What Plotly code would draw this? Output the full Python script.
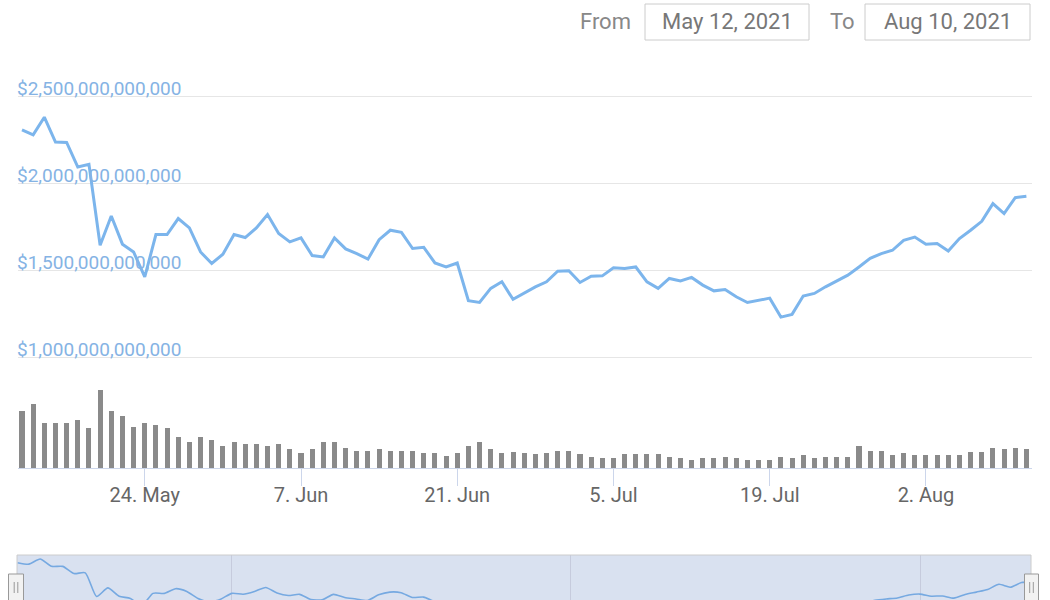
import pandas as pd
import plotly.graph_objects as go

# ---------------- data ----------------
start_date = "2021-05-13"
n_days = 91
dates = pd.date_range(start_date, periods=n_days, freq="D")

# total market cap, trillions of USD
market_cap_trillions = [
    2.309, 2.280, 2.381, 2.238, 2.236, 2.095, 2.110, 1.646, 1.814, 1.652,
    1.607, 1.464, 1.707, 1.707, 1.799, 1.745, 1.607, 1.541, 1.594, 1.707,
    1.690, 1.745, 1.822, 1.713, 1.665, 1.688, 1.587, 1.579, 1.688, 1.625,
    1.598, 1.566, 1.678, 1.732, 1.720, 1.627, 1.634, 1.544, 1.521, 1.544,
    1.327, 1.317, 1.398, 1.436, 1.335, 1.369, 1.407, 1.436, 1.497, 1.499,
    1.432, 1.468, 1.470, 1.516, 1.512, 1.521, 1.436, 1.398, 1.455, 1.441,
    1.461, 1.417, 1.384, 1.392, 1.350, 1.317, 1.331, 1.342, 1.233, 1.249,
    1.354, 1.369, 1.407, 1.441, 1.474, 1.521, 1.571, 1.598, 1.617, 1.674,
    1.693, 1.652, 1.656, 1.613, 1.684, 1.732, 1.783, 1.885, 1.828, 1.919,
    1.927,
]

# 24h volume, billions of USD
volume_billions = [
    287, 322, 227, 227, 227, 244, 200, 392, 287, 260,
    208, 227, 218, 200, 157, 132, 157, 140, 113, 132,
    122, 122, 113, 122, 97, 78, 97, 132, 132, 103,
    88, 88, 97, 88, 88, 85, 78, 78, 62, 78,
    112, 132, 95, 78, 80, 78, 70, 78, 87, 87,
    70, 58, 50, 53, 70, 70, 70, 70, 58, 50,
    42, 50, 50, 58, 50, 43, 43, 43, 58, 50,
    67, 50, 58, 58, 58, 112, 87, 87, 67, 75,
    67, 67, 67, 67, 67, 83, 83, 103, 95, 103,
    95,
]

x_tick_dates = ["2021-05-24", "2021-06-07", "2021-06-21", "2021-07-05", "2021-07-19", "2021-08-02"]
y_tick_values = [1.0e12, 1.5e12, 2.0e12, 2.5e12]
from_text = "May 12, 2021"
to_text = "Aug 10, 2021"

market_cap = [v * 1e12 for v in market_cap_trillions]
volume = [v * 1e9 for v in volume_billions]

# ---------------- geometry helpers ----------------
W, H = 1050, 600
FONT = "Roboto, 'Noto Sans', sans-serif"


def px_x(p):
    return p / W


def px_y(p):
    return 1 - p / H


t0 = pd.Timestamp(start_date)
DAY = pd.Timedelta(days=1)

# main chart: first point at 22px, 11.16 px/day, plot 18..1032
PX_PER_DAY = 11.16
main_xrange = [str(t0 + DAY * ((18 - 22) / PX_PER_DAY)), str(t0 + DAY * ((1032 - 22) / PX_PER_DAY))]

# main y: 2.5T at 96.5px, 1.0T at 357.7px
px_per_T = (357.7 - 96.5) / 1.5
y_top_px, y_bot_px = 60, 365
main_yrange = [(1.0 - (y_bot_px - 357.7) / px_per_T) * 1e12, (2.5 + (96.5 - y_top_px) / px_per_T) * 1e12]

# volume pane: 380..468.3 px, 5e9 per px
vol_top_px, vol_bot_px = 380, 468.3
vol_range = [0, (vol_bot_px - vol_top_px) * 5e9]

# navigator: x 17..1031, first point at 17.6, 11.28 px/day ; y 555..600
NAV_PX_PER_DAY = 11.28
nav_xrange = [str(t0 + DAY * ((17 - 17.6) / NAV_PX_PER_DAY)), str(t0 + DAY * ((1031 - 17.6) / NAV_PX_PER_DAY))]
nav_px_per_T = 51
nav_top_val = 2.381 + 4 / nav_px_per_T
nav_yrange = [(nav_top_val - 45 / nav_px_per_T) * 1e12, nav_top_val * 1e12]

LINE_COLOR = "#7cb5ec"

fig = go.Figure()

fig.add_trace(go.Scatter(
    x=dates, y=market_cap, mode="lines",
    line=dict(color=LINE_COLOR, width=3),
    xaxis="x", yaxis="y", hoverinfo="skip",
))

fig.add_trace(go.Bar(
    x=dates, y=volume,
    marker=dict(color="#8a8a8a", line=dict(width=0)),
    width=0.45 * 86400000,
    xaxis="x2", yaxis="y2", hoverinfo="skip",
))

fig.add_trace(go.Scatter(
    x=dates, y=market_cap, mode="lines",
    line=dict(color="#76a9e1", width=1.6, shape="spline", smoothing=0.6),
    xaxis="x3", yaxis="y3", hoverinfo="skip",
))

shapes = []
annotations = []

# navigator mask background
shapes.append(dict(type="rect", xref="paper", yref="paper", layer="below",
                   x0=px_x(17), x1=px_x(1031), y0=px_y(610), y1=px_y(555),
                   fillcolor="#d9e1f0", line=dict(width=0)))
# navigator outline
shapes.append(dict(type="rect", xref="paper", yref="paper", layer="above",
                   x0=px_x(17), x1=px_x(1031), y0=px_y(610), y1=px_y(555),
                   fillcolor="rgba(0,0,0,0)", line=dict(color="#cccccc", width=1)))
# navigator handles
for hx0, hx1 in [(8.5, 23.5), (1024.5, 1038.5)]:
    shapes.append(dict(type="rect", xref="paper", yref="paper", layer="above",
                       x0=px_x(hx0), x1=px_x(hx1), y0=px_y(606), y1=px_y(574),
                       fillcolor="#f2f2f2", line=dict(color="#999999", width=1)))
    cx = (hx0 + hx1) / 2
    for dx in (-1.8, 1.8):
        shapes.append(dict(type="line", xref="paper", yref="paper", layer="above",
                           x0=px_x(cx + dx), x1=px_x(cx + dx), y0=px_y(593), y1=px_y(582),
                           line=dict(color="#999999", width=1)))

# range input boxes
for bx0, bx1, txt in [(645, 809, from_text), (865, 1030, to_text)]:
    shapes.append(dict(type="rect", xref="paper", yref="paper", layer="above",
                       x0=px_x(bx0), x1=px_x(bx1), y0=px_y(40), y1=px_y(4),
                       fillcolor="white", line=dict(color="#cccccc", width=1)))
    annotations.append(dict(xref="paper", yref="paper", x=px_x((bx0 + bx1) / 2), y=px_y(22),
                            text=txt, showarrow=False, xanchor="center", yanchor="middle",
                            font=dict(family=FONT, size=22, color="#777777")))
annotations.append(dict(xref="paper", yref="paper", x=px_x(633), y=px_y(21), text="From",
                        showarrow=False, xanchor="right", yanchor="middle",
                        font=dict(family=FONT, size=22, color="#888888")))
annotations.append(dict(xref="paper", yref="paper", x=px_x(857), y=px_y(21), text="To",
                        showarrow=False, xanchor="right", yanchor="middle",
                        font=dict(family=FONT, size=22, color="#888888")))

fig.update_layout(
    width=W, height=H,
    margin=dict(l=0, r=0, t=0, b=0),
    paper_bgcolor="white", plot_bgcolor="white",
    showlegend=False, hovermode=False,
    font=dict(family=FONT),
    bargap=0,
    shapes=shapes, annotations=annotations,
    xaxis=dict(domain=[px_x(18), px_x(1032)], anchor="y", type="date", range=main_xrange,
               showgrid=False, showticklabels=False, ticks="", zeroline=False, showline=False),
    yaxis=dict(domain=[px_y(y_bot_px), px_y(y_top_px)], anchor="x", range=main_yrange,
               tickvals=y_tick_values, tickformat="$,.0f",
               ticklabelposition="inside top", ticks="",
               ticklabelstandoff=-4, ticklabelshift=5,
               tickfont=dict(family=FONT, size=19, color="#85b3e4"),
               showgrid=True, gridcolor="#e6e6e6", gridwidth=1,
               zeroline=False, showline=False),
    xaxis2=dict(domain=[px_x(18), px_x(1032)], anchor="y2", type="date", range=main_xrange,
                tickvals=x_tick_dates, tickformat="%-d. %b",
                ticks="outside", ticklen=17, tickcolor="#ccd6eb", tickwidth=1,
                ticklabelstandoff=-8,
                tickfont=dict(family=FONT, size=20, color="#666666"),
                showline=True, linecolor="#ccd6eb", linewidth=1,
                showgrid=False, zeroline=False),
    yaxis2=dict(domain=[px_y(vol_bot_px), px_y(vol_top_px)], anchor="x2", range=vol_range,
                showgrid=False, showticklabels=False, ticks="", zeroline=False, showline=False),
    xaxis3=dict(domain=[px_x(17), px_x(1031)], anchor="y3", type="date", range=nav_xrange,
                dtick="M1", tick0="2021-05-01", showticklabels=False, ticks="",
                showgrid=True, gridcolor="#c6cbdd", gridwidth=1,
                zeroline=False, showline=False),
    yaxis3=dict(domain=[0, px_y(555)], anchor="x3", range=nav_yrange,
                showgrid=False, showticklabels=False, ticks="", zeroline=False, showline=False),
)

fig.write_html(
    "out.html",
    config={"displayModeBar": False, "staticPlot": True},
    post_script="document.body.style.margin='0px';document.body.style.overflow='hidden';",
)
